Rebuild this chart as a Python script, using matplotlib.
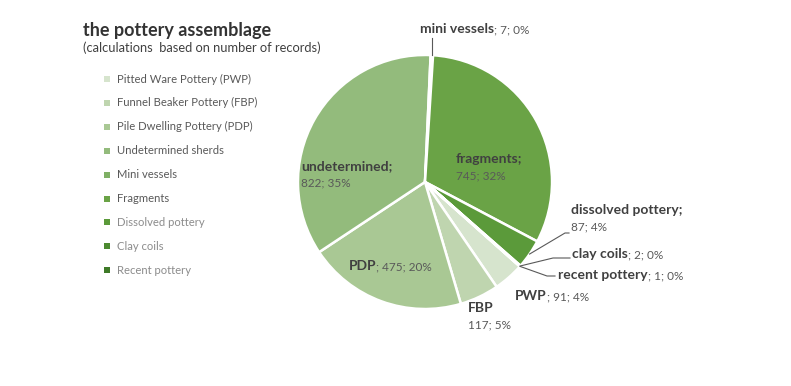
import numpy as np
import matplotlib.pyplot as plt

W, H = 791, 386

categories = ["Pitted Ware Pottery (PWP)", "Funnel Beaker Pottery (FBP)",
              "Pile Dwelling Pottery (PDP)", "Undetermined sherds", "Mini vessels",
              "Fragments", "Dissolved pottery", "Clay coils", "Recent pottery"]
short_names = ["PWP", "FBP", "PDP", "undetermined", "mini vessels", "fragments",
               "dissolved pottery", "clay coils", "recent pottery"]
counts = [91, 117, 475, 822, 7, 745, 87, 2, 1]

colors = ["#d6e4cd", "#bfd5af", "#a9c894", "#93bb7c", "#7fb065",
          "#6aa346", "#5b9a3a", "#4c8a30", "#3e7a28"]
legend_txt_colors = ["#595959"] * 6 + ["#8c8c8c"] * 3
explode = [0, 0, 0, 0.04, 0, 0.04, 0, 0, 0]

plt.rcParams['font.family'] = ['Lato', 'DejaVu Sans']

DARK = "#404040"
MID = "#595959"
FS_B = 10
FS_N = 8.5


def py(y):
    # pixel row (from top) -> data y
    return H - y


fig = plt.figure(figsize=(W / 100, H / 100), dpi=100)
ax = fig.add_axes([0, 0, 1, 1])

wedges, _ = ax.pie(counts, colors=colors, explode=explode, startangle=-41.7,
                   counterclock=False, center=(425, py(182)), radius=127,
                   wedgeprops=dict(edgecolor="white", linewidth=1.8))
ax.set_xlim(0, W)
ax.set_ylim(0, H)
ax.axis("off")

total = sum(counts)
vals = ["%d; %d%%" % (c, round(100 * c / total)) for c in counts]


def edge_pt(w):
    a = np.deg2rad((w.theta1 + w.theta2) / 2)
    cx, cy = w.center
    return cx + w.r * np.cos(a), cy + w.r * np.sin(a)


def inline_label(i, x, y):
    t = ax.text(x, py(y + 4), short_names[i], fontsize=FS_B, fontweight="bold",
                color=DARK, ha="left", va="baseline")
    ax.annotate("; " + vals[i], xy=(1, py(y + 4)), xycoords=(t, "data"),
                fontsize=FS_N, color=MID, ha="left", va="baseline")


def two_line_label(i, x, y, semi=True):
    ax.text(x, py(y + 4), short_names[i] + (";" if semi else ""), fontsize=FS_B,
            fontweight="bold", color=DARK, ha="left", va="baseline")
    ax.text(x, py(y + 20), vals[i], fontsize=FS_N, color=MID, ha="left",
            va="baseline")


inline_label(0, 515, 296)
two_line_label(1, 468, 308, semi=False)
inline_label(2, 349, 266)
two_line_label(3, 301, 166)
inline_label(4, 420, 29)
two_line_label(5, 456, 159)
two_line_label(6, 571, 210)
inline_label(7, 572, 254)
inline_label(8, 558, 275)

# leader lines
lc = dict(color="#595959", lw=0.8)
ex, ey = edge_pt(wedges[4])
ax.plot([ex, ex], [ey, py(38)], **lc)
ex, ey = edge_pt(wedges[6])
ax.plot([ex, 565, 569], [ey, py(233), py(233)], **lc)
ex, ey = edge_pt(wedges[7])
ax.plot([ex, 553, 570], [ey, py(258), py(258)], **lc)
ex, ey = edge_pt(wedges[8])
ax.plot([ex, 547, 555], [ey, py(276), py(276)], **lc)

# title
ax.text(83, py(36), "the pottery assemblage", fontsize=13, fontweight="bold",
        color="#333333", ha="left", va="baseline")
ax.text(83, py(52), "(calculations  based on number of records)", fontsize=9.3,
        color=DARK, ha="left", va="baseline")

# legend
for i, name in enumerate(categories):
    y = 79 + 23.9 * i
    ax.scatter([107], [py(y)], marker="s", s=20, color=colors[i], linewidths=0)
    ax.text(117, py(y), name, fontsize=8.1, color=legend_txt_colors[i],
            ha="left", va="center")

fig.savefig("out.png", dpi=100)
